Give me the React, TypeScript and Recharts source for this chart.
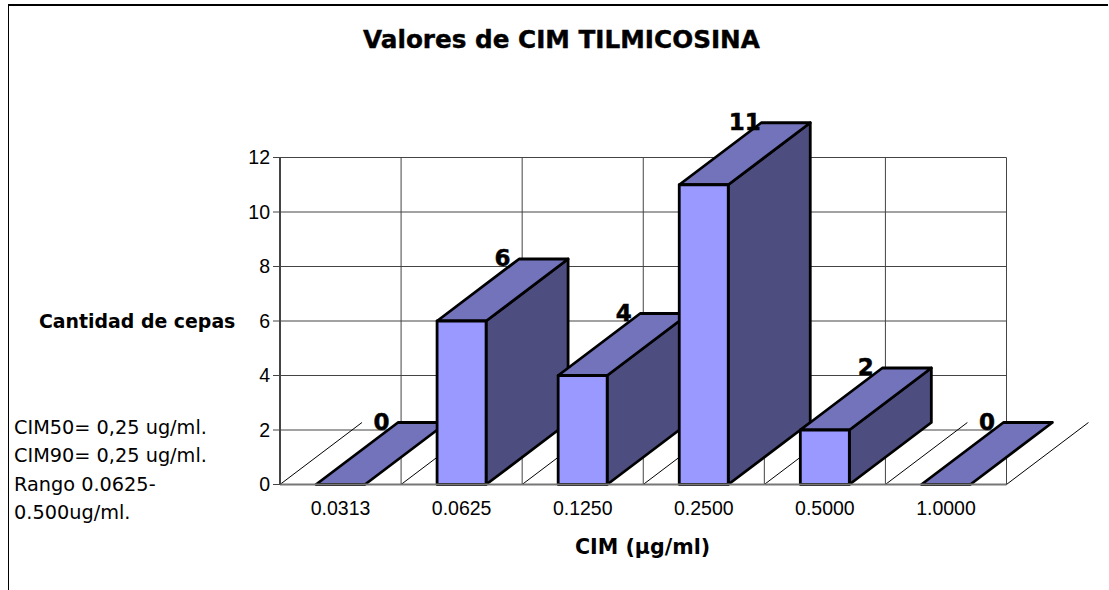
import { BarChart, Bar, XAxis, YAxis, CartesianGrid, LabelList } from 'recharts';

const categories = ['0.0313', '0.0625', '0.1250', '0.2500', '0.5000', '1.0000'];
const cepas = [0, 6, 4, 11, 2, 0];
const yTicks = [0, 2, 4, 6, 8, 10, 12];
const notes = ['CIM50= 0,25 ug/ml.', 'CIM90= 0,25 ug/ml.', 'Rango 0.0625-', '0.500ug/ml.'];

const data = categories.map((cim, i) => ({ cim, cepas: cepas[i] }));

const WIDTH = 1109;
const HEIGHT = 590;
const LEFT = 280;
const RIGHT = 1006.5;
const TOP = 157.5;
const BOTTOM = 484.5;
const BAND = (RIGHT - LEFT) / categories.length;
const Y_AXIS_W = 60;
const X_AXIS_H = 50;
// fake 3D depth of the columns and floor
const DX = 82;
const DY = 62;

const FONT = '"DejaVu Sans", sans-serif';
const AXIS_COLOR = '#444444';

const Column3D = ({ x, y, width, height }: any) => {
  const x2 = x + width;
  const y2 = y + height;
  const common = { stroke: '#000', strokeWidth: 2.8, strokeLinejoin: 'round' as const };
  return (
    <g>
      {height > 0 && (
        <polygon
          points={`${x2},${y} ${x2 + DX},${y - DY} ${x2 + DX},${y2 - DY} ${x2},${y2}`}
          fill="#4d4d7f"
          {...common}
        />
      )}
      <polygon
        points={`${x},${y} ${x + DX},${y - DY} ${x2 + DX},${y - DY} ${x2},${y}`}
        fill="#7373bb"
        {...common}
      />
      {height > 0 && <rect x={x} y={y} width={width} height={height} fill="#9999ff" {...common} />}
    </g>
  );
};

// floor diagonals sit at the band edges, behind the columns
const FloorLine = ({ x, y, width, height, index }: any) => {
  const x0 = x + width / 2 - BAND / 2;
  const floor = y + height;
  return (
    <g>
      <line x1={x0} y1={floor} x2={x0 + DX} y2={floor - DY} stroke="#000" strokeWidth={1} />
      {index === categories.length - 1 && (
        <line x1={x0 + BAND} y1={floor} x2={x0 + BAND + DX} y2={floor - DY} stroke="#000" strokeWidth={1} />
      )}
    </g>
  );
};

const ValueLabel = ({ x, y, width, value }: any) => (
  <text
    x={x + width / 2 + DX / 2}
    y={y - DY - 1}
    textAnchor="middle"
    dominantBaseline="central"
    fontFamily={FONT}
    fontWeight={700}
    fontSize={23}
    stroke="#000"
    strokeWidth={0.5}
    fill="#000"
  >
    {value}
  </text>
);

const textBase = {
  position: 'absolute' as const,
  fontFamily: FONT,
  color: '#000',
  whiteSpace: 'nowrap' as const,
  lineHeight: 1,
};

const tickStyle = { fill: '#000', fontSize: 19.5, fontFamily: '"Liberation Sans", sans-serif' };

export default function App() {
  return (
    <div style={{ position: 'absolute', left: 0, top: 0, width: WIDTH, height: HEIGHT, overflow: 'hidden', background: '#fff' }}>
      <div style={{ position: 'absolute', left: 8, top: 4, width: 1099, height: 800, borderLeft: '1.5px solid #000', borderTop: '2px solid #000' }} />
      <BarChart
        width={WIDTH}
        height={HEIGHT}
        data={data}
        margin={{ left: LEFT - Y_AXIS_W, right: WIDTH - RIGHT, top: TOP, bottom: HEIGHT - BOTTOM - X_AXIS_H }}
        style={{ position: 'absolute', left: 0, top: 0 }}
      >
        <CartesianGrid
          stroke={AXIS_COLOR}
          verticalCoordinatesGenerator={({ offset }: any) =>
            categories.map((_, i) => offset.left + (i + 1) * BAND)
          }
        />
        <XAxis
          dataKey="cim"
          height={X_AXIS_H}
          tickLine={false}
          tickMargin={11}
          axisLine={{ stroke: '#777', strokeWidth: 2 }}
          interval={0}
          tick={tickStyle}
        />
        <YAxis
          width={Y_AXIS_W}
          domain={[0, 12]}
          ticks={yTicks}
          interval={0}
          tickSize={7}
          tickMargin={3}
          tickLine={{ stroke: AXIS_COLOR }}
          axisLine={{ stroke: AXIS_COLOR, strokeWidth: 2 }}
          tick={tickStyle}
        />
        <Bar
          dataKey="cepas"
          barSize={49}
          isAnimationActive={false}
          background={(props: any) => <FloorLine {...props} />}
          shape={(props: any) => <Column3D {...props} />}
        >
          <LabelList dataKey="cepas" content={(props: any) => <ValueLabel {...props} />} />
        </Bar>
      </BarChart>
      <div style={{ ...textBase, left: 363, top: 28, fontSize: 24.7, fontWeight: 700, WebkitTextStroke: '0.4px #000' }}>Valores de CIM TILMICOSINA</div>
      <div style={{ ...textBase, left: 39, top: 312, fontSize: 18.9, fontWeight: 700 }}>Cantidad de cepas</div>
      <div style={{ ...textBase, left: 575, top: 537, fontSize: 20.6, fontWeight: 700 }}>CIM (µg/ml)</div>
      {notes.map((line, i) => (
        <div key={line} style={{ ...textBase, left: 14, top: 418 + i * 28.3, fontSize: 19.3 }}>{line}</div>
      ))}
    </div>
  );
}
